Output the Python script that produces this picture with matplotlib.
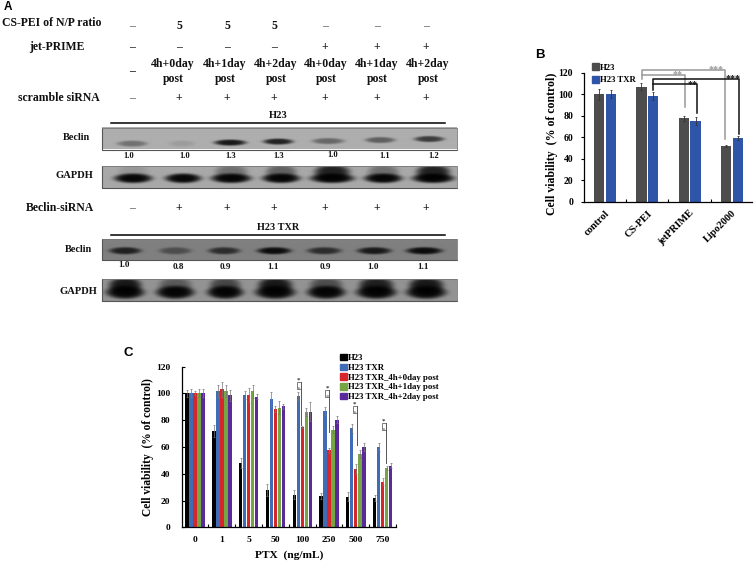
import numpy as np
import matplotlib
matplotlib.use("Agg")
import matplotlib.pyplot as plt
from matplotlib.patches import Patch

W, H = 756, 562
SERIF = "Liberation Serif"

# panel B
b_groups = ["control", "CS-PEI", "jetPRIME", "Lipo2000"]
b_h23 = [100, 107, 77.5, 52]
b_h23_err = [5, 3.5, 2, 1.2]
b_txr = [100, 98.5, 75, 59]
b_txr_err = [3.5, 4, 3.5, 2]

# panel C
c_groups = ["0", "1", "5", "50", "100", "250", "500", "750"]
c_names = ["H23", "H23 TXR", "H23 TXR_4h+0day post", "H23 TXR_4h+1day post", "H23 TXR_4h+2day post"]
c_h23 = [100, 72, 48, 28, 24.5, 23.5, 23, 22]
c_txr = [100, 102, 99, 96, 98, 87, 74, 60]
c_0day = [100, 103, 98.5, 88.5, 75, 57.5, 43.5, 34]
c_1day = [100, 101.5, 101.5, 89.5, 86, 73, 55, 44]
c_2day = [100, 98.5, 97.5, 90.5, 86.5, 80.5, 60, 46]
c_h23_err = [2.5, 4.5, 3.5, 4.5, 3.5, 2, 3.5, 2]
c_txr_err = [3, 4.5, 3, 5, 3, 3, 3.5, 3]
c_0day_err = [1.5, 5.5, 5.5, 2.5, 1, 2, 3.5, 2.5]
c_1day_err = [3, 4.5, 5, 4.5, 3, 2.5, 3, 1.5]
c_2day_err = [3, 4, 2, 2, 7, 2.5, 3, 2]
c_colors = ["#000000", "#3f6cb5", "#d7262b", "#76a544", "#5a2a9a"]

# panel A, blots: lane centres, band widths, band darkness
beclin1_x = [132, 182, 230, 278, 328, 380, 429]
beclin1_y = [144, 144, 143, 142, 141.5, 140.5, 139.5]
beclin1_w = [15, 13, 16, 15, 16, 15, 15]
beclin1_d = [0.35, 0.1, 0.85, 0.8, 0.4, 0.45, 0.65]
gapdh1_x = [133, 183, 231, 281, 332, 383, 433]
gapdh1_w = [19, 18, 20, 19, 22, 19, 21]
gapdh1_top = [0.12, 0.0, 0.4, 0.5, 0.95, 0.4, 0.95]
beclin2_x = [125, 175, 224, 274, 324, 374, 424]
beclin2_w = [16, 16, 16, 17, 17, 17, 18]
beclin2_d = [0.75, 0.4, 0.65, 0.9, 0.65, 0.8, 0.9]
gapdh2_x = [125, 175, 225, 275, 326, 376, 426]
gapdh2_w = [19, 19, 18, 20, 19, 20, 20]
gapdh2_top = [0.95, 0.45, 0.6, 0.95, 0.55, 0.9, 0.95]

fig = plt.figure(figsize=(W / 100, H / 100), dpi=100)
plt.rcParams["font.family"] = SERIF
plt.rcParams["font.weight"] = "bold"
plt.rcParams["axes.labelweight"] = "bold"


def px_axes(x0, y0, x1, y1):
    # y0 is the top edge, in picture pixels
    return fig.add_axes([x0 / W, 1 - y1 / H, (x1 - x0) / W, (y1 - y0) / H])


over = px_axes(0, 0, W, H)
over.set_xlim(0, W)
over.set_ylim(H, 0)
over.axis("off")


def t(x, y, s, size=8.5, ha="center", color="#111111", **kw):
    over.text(x, y, s, fontsize=size, ha=ha, va="center", color=color,
              fontfamily=SERIF, fontweight="bold", **kw)


def blot(x0, y0, x1, y1, bands, bg=0.58):
    xs = np.arange(x0, x1, 0.5)
    ys = np.arange(y0, y1, 0.5)
    xx, yy = np.meshgrid(xs, ys)
    img = np.full(xx.shape, bg)
    for cx, cy, w, h, d in bands:
        r = np.sqrt(((xx - cx) / w) ** 2 + ((yy - cy) / h) ** 2)
        img = img * (1 - d * np.exp(-r ** 5))
    over.imshow(img, extent=(x0, x1, y1, y0), cmap="gray", vmin=0, vmax=1,
                aspect="auto", interpolation="bilinear", zorder=1)
    over.plot([x0, x0, x1], [y0, y1, y1], color="#555555", lw=0.8, zorder=2)
    over.plot([x0, x1, x1], [y0, y0, y1], color="#777777", lw=0.6, zorder=2)


blot(102, 128, 457, 149.5,
     [(x, y, w, 3.0, d) for x, y, w, d in zip(beclin1_x, beclin1_y, beclin1_w, beclin1_d)], bg=0.68)
blot(102, 166, 457, 188,
     [(x, 178, w, 4.8, 0.95) for x, w in zip(gapdh1_x, gapdh1_w)]
     + [(x, 172, w * 0.8, 8, 0.85 * s) for x, w, s in zip(gapdh1_x, gapdh1_w, gapdh1_top)], bg=0.66)
blot(102, 239, 457, 260,
     [(x, 250.5, w, 3.6, d) for x, w, d in zip(beclin2_x, beclin2_w, beclin2_d)], bg=0.5)
blot(102, 279, 457, 301,
     [(x, 292, w, 6.5, 0.95) for x, w in zip(gapdh2_x, gapdh2_w)]
     + [(x, 285, w * 0.85, 8, 0.88 * s) for x, w, s in zip(gapdh2_x, gapdh2_w, gapdh2_top)], bg=0.58)
over.set_xlim(0, W)
over.set_ylim(H, 0)

# panel A text
over.text(4, 6.5, "A", fontsize=8.5, fontfamily="Liberation Sans", fontweight="bold", va="center")
over.text(535, 55, "B", fontsize=9.5, fontfamily="Liberation Sans", fontweight="bold", va="center")
over.text(124, 353, "C", fontsize=9.5, fontfamily="Liberation Sans", fontweight="bold", va="center")

t(2, 23, "CS-PEI of N/P ratio", ha="left")
t(57, 47, "jet-PRIME")
t(59, 98, "scramble siRNA")
t(60, 208, "Beclin-siRNA")
t(278, 116, "H23", size=7.6)
t(278, 228, "H23 TXR", size=7.4)
over.plot([111, 445], [122.5, 122.5], color="black", lw=1.1)
over.plot([111, 445], [234.5, 234.5], color="black", lw=1.1)

row_x = [132, 179, 227, 274, 325, 377, 426]
row_cspei = ["–", "5", "5", "5", "–", "–", "–"]
row_jet = ["–", "–", "–", "–", "+", "+", "+"]
row_scr = ["–", "+", "+", "+", "+", "+", "+"]
row_bec = ["–", "+", "+", "+", "+", "+", "+"]
for x, a, b, c, d in zip(row_x, row_cspei, row_jet, row_scr, row_bec):
    t(x, 26, a, color="#111111" if a == "5" else "#666666")
    t(x, 47, b, color="#222222")
    t(x, 98, c, color="#222222" if c == "+" else "#666666")
    t(x, 208, d, color="#222222" if d == "+" else "#666666")

t(132, 71, "–")
for x, s in zip([173, 225, 276, 326, 377, 428], ["0", "1", "2", "0", "1", "2"]):
    t(x, 64.5, "4h+%sday" % s)
    t(x, 79, "post")

t(76, 137, "Beclin", size=7.4)
t(74, 176, "GAPDH", size=7.6)
t(78, 249, "Beclin", size=7.4)
t(78, 291, "GAPDH", size=7.6)

lab1_x = [129, 185, 231, 279, 333, 385, 434]
lab1_y = [156, 156, 156, 156, 155, 156, 156]
lab1 = ["1.0", "1.0", "1.3", "1.3", "1.0", "1.1", "1.2"]
lab2_x = [124, 178, 225, 273, 325, 373, 423]
lab2_y = [265, 267, 267, 267, 267, 267, 267]
lab2 = ["1.0", "0.8", "0.9", "1.1", "0.9", "1.0", "1.1"]
for x, y, s in zip(lab1_x, lab1_y, lab1):
    t(x, y, s, size=6.2)
for x, y, s in zip(lab2_x, lab2_y, lab2):
    t(x, y, s, size=6.6)


def style_axes(ax, n, labelsize):
    ax.set_ylim(0, 120)
    ax.set_yticks(range(0, 121, 20))
    ax.set_xticks(range(1, n + 1))
    ax.set_xticklabels([])
    ax.tick_params(axis="both", direction="in", length=2, width=0.8, labelsize=labelsize)
    ax.patch.set_alpha(0)
    for side in ["top", "right"]:
        ax.spines[side].set_visible(False)
    for side in ["left", "bottom"]:
        ax.spines[side].set_linewidth(0.9)


# panel B
axb = px_axes(584, 72.7, 751.7, 201.7)
style_axes(axb, 3, 7)
axb.set_xlim(0, 3.97)
axb.tick_params(axis="y", direction="out", pad=5.8)
pos = np.arange(4) + 0.5
axb.bar(pos - 0.14, b_h23, 0.24, yerr=b_h23_err, color="#4d4d4d",
        error_kw=dict(ecolor="#333333", elinewidth=0.6, capsize=1, capthick=0.6))
axb.bar(pos + 0.14, b_txr, 0.24, yerr=b_txr_err, color="#2f55a8",
        error_kw=dict(ecolor="#333333", elinewidth=0.6, capsize=1, capthick=0.6))
axb.set_xticks(pos, minor=True)
axb.set_xticklabels(b_groups, minor=True, rotation=45, ha="right", va="top",
                    rotation_mode="anchor", fontsize=7.5)
axb.tick_params(axis="x", which="minor", length=0, pad=5)
axb.set_ylabel("Cell viability  (% of control)", fontsize=8.5)
axb.yaxis.set_label_coords((558 - 584) / 167.7, (201.7 - 144) / 129)
fig.legend(handles=[Patch(color="#4d4d4d"), Patch(color="#2f55a8")], labels=["H23", "H23 TXR"],
           loc="upper left", bbox_to_anchor=(592 / W, 1 - 63.5 / H), frameon=False, fontsize=6.2,
           handlelength=0.8, handleheight=0.8, handletextpad=0.15, labelspacing=0.5,
           borderpad=0, borderaxespad=0)

gray, dark = "#999999", "#111111"
over.plot([642.3, 642.3, 725, 725], [79, 70, 70, 139], color=gray, lw=1.1, zorder=5)
over.plot([642.3, 685, 685], [75, 75, 106.7], color=gray, lw=1.1, zorder=5)
over.plot([653.3, 653.3, 739.3, 739.3], [90, 79, 79, 134], color=dark, lw=1.1, zorder=5)
over.plot([653.3, 696.7, 696.7], [84.3, 84.3, 113], color=dark, lw=1.1, zorder=5)
t(716, 70, "***", size=7.2, color=gray, zorder=6)
t(678, 75, "**", size=7.2, color=gray, zorder=6)
t(693, 85, "**", size=7.2, color=dark, zorder=6)
t(733, 79, "***", size=7.2, color=dark, zorder=6)

# panel C
axc = px_axes(181.7, 366.7, 396, 527.3)
style_axes(axc, 8, 6.8)
axc.set_xlim(0, 8)
axc.tick_params(axis="y", pad=8.4)
pos = np.arange(8) + 0.5
series = [c_h23, c_txr, c_0day, c_1day, c_2day]
errs = [c_h23_err, c_txr_err, c_0day_err, c_1day_err, c_2day_err]
for i in range(5):
    axc.bar(pos + (i - 2) * 0.15, series[i], 0.125, yerr=errs[i], color=c_colors[i],
            error_kw=dict(ecolor="#777777", elinewidth=0.5, capsize=1, capthick=0.5))
axc.set_xticks(pos, minor=True)
axc.set_xticklabels(c_groups, minor=True, fontsize=6.8)
axc.tick_params(axis="x", which="minor", length=0, pad=6)
axc.set_xlabel("PTX  (ng/mL)", fontsize=8.2, va="center")
axc.xaxis.set_label_coords(0.5, (527.3 - 555) / 160.6)
axc.set_ylabel("Cell viability  (% of control)", fontsize=8.3)
axc.yaxis.set_label_coords((153.5 - 181.7) / 214.3, 0.5)
fig.legend(handles=[Patch(color=c) for c in c_colors], labels=c_names,
           loc="upper left", bbox_to_anchor=(340 / W, 1 - 354 / H), frameon=False, fontsize=6.3,
           handlelength=0.75, handleheight=0.75, handletextpad=0.2, labelspacing=0.17,
           borderpad=0, borderaxespad=0)

# significance brackets on panel C
brk_x = [298.7, 327, 354.7, 383.7]
brk_top = [382, 390, 406, 423]
brk_bot = [425, 432, 445, 463]
for x, y0, y1 in zip(brk_x, brk_top, brk_bot):
    over.plot([x + 2, x - 2, x - 2, x + 2], [y0, y0, y0 + 7, y0 + 7], color="#666666", lw=0.6, zorder=5)
    over.plot([x + 2, x + 2], [y0, y1], color="#555555", lw=0.7, zorder=5)
    t(x, y0 - 1.5, "*", size=5, color="#333333", zorder=6)
    t(x, y0 + 7, "*", size=5, color="#888888", zorder=6)

fig.savefig("out.png", dpi=100)
